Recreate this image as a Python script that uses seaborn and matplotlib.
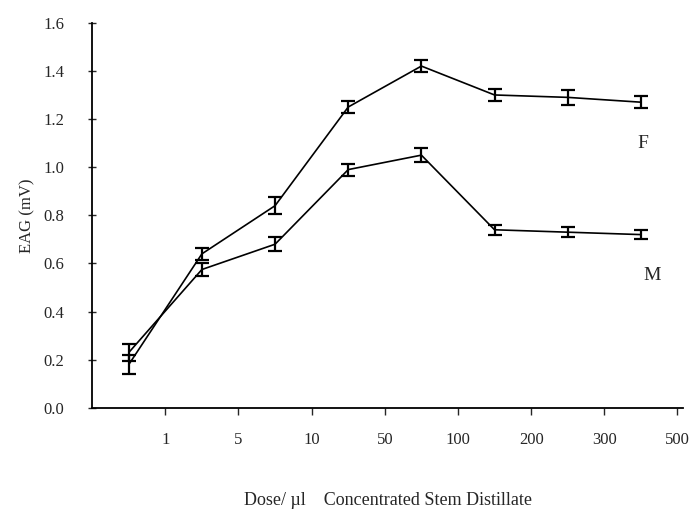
import numpy as np
import pandas as pd
import matplotlib
matplotlib.use("Agg")
import matplotlib.pyplot as plt
import seaborn as sns

dose_labels = ["1", "5", "10", "50", "100", "200", "300", "500"]
female = [0.18, 0.64, 0.84, 1.25, 1.42, 1.30, 1.29, 1.27]
female_err = [0.04, 0.025, 0.035, 0.025, 0.025, 0.025, 0.03, 0.025]
male = [0.23, 0.575, 0.68, 0.99, 1.05, 0.74, 0.73, 0.72]
male_err = [0.035, 0.025, 0.03, 0.025, 0.03, 0.02, 0.02, 0.02]

sns.set_style("white")
plt.rcParams['font.family'] = ['Liberation Serif', 'DejaVu Serif']

pos = np.arange(len(dose_labels)) + 0.5
df = pd.DataFrame({
    "pos": np.concatenate([pos, pos]),
    "EAG": female + male,
    "sex": ["F"] * len(female) + ["M"] * len(male),
})

fig = plt.figure(figsize=(6.93, 5.17), dpi=100)
ax = fig.add_axes([0.133, 0.211, 0.853, 0.745])

sns.lineplot(data=df, x="pos", y="EAG", units="sex", estimator=None,
             color="black", lw=1.2, ax=ax, legend=False)
ax.errorbar(pos, female, yerr=female_err, fmt="none", ecolor="black",
            elinewidth=1.6, capsize=5, capthick=1.6)
ax.errorbar(pos, male, yerr=male_err, fmt="none", ecolor="black",
            elinewidth=1.6, capsize=5, capthick=1.6)

ax.set_xlim(0, 8.08)
ax.set_ylim(0, 1.6)
ax.set_xticks(np.arange(1, len(dose_labels) + 1))
ax.set_xticklabels(dose_labels, fontsize=12)
ax.set_yticks(np.arange(0, 1.61, 0.2))
ax.set_yticklabels([f"{v:.1f}" for v in np.arange(0, 1.61, 0.2)], fontsize=12)
ax.tick_params(axis="x", direction="out", length=5, width=1, pad=12)
ax.tick_params(axis="y", direction="inout", length=6, width=1, pad=17)
ax.tick_params(bottom=True, left=True)
for s in ["top", "right"]:
    ax.spines[s].set_visible(False)
for s in ["left", "bottom"]:
    ax.spines[s].set_color("black")
    ax.spines[s].set_linewidth(1.3)

ax.text(7.53, 1.10, "F", fontsize=14, ha="center", va="center")
ax.text(7.65, 0.55, "M", fontsize=14, ha="center", va="center")

ax.set_xlabel("Dose/ \u00b5l    Concentrated Stem Distillate", fontsize=13, labelpad=32)
ax.set_ylabel("EAG (mV)", fontsize=12, labelpad=6)

fig.savefig("out.png", dpi=100)
